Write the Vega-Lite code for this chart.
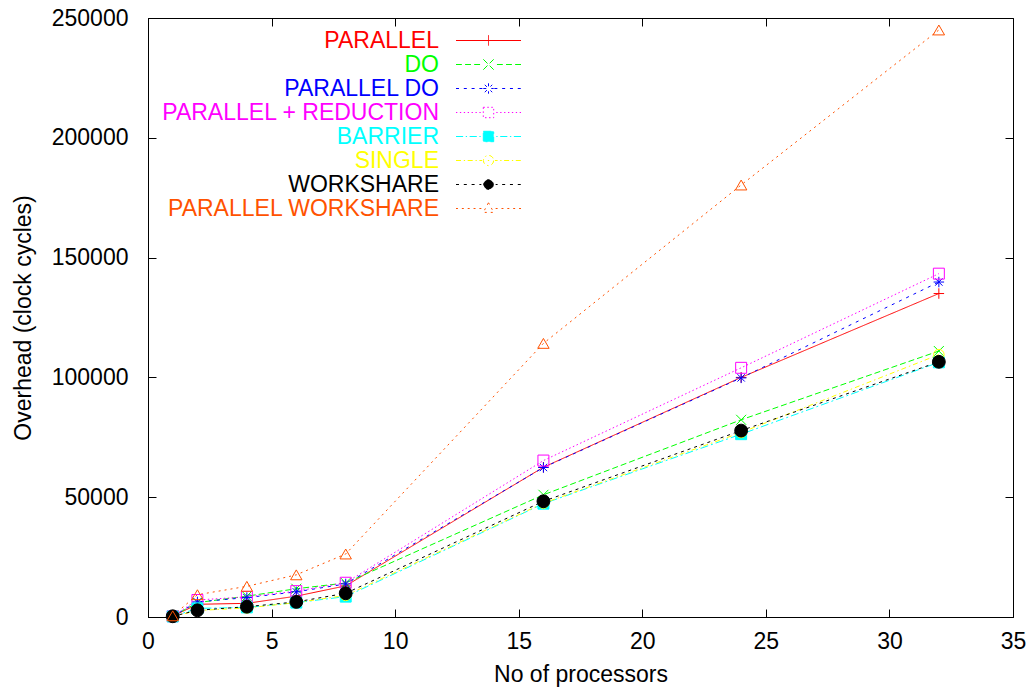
{
  "$schema": "https://vega.github.io/schema/vega-lite/v6.json",
  "width": 865,
  "height": 599,
  "autosize": {"type": "none"},
  "padding": {"left": 148, "top": 18, "right": 18, "bottom": 75},
  "config": {
    "view": {"stroke": "#000000", "strokeWidth": 1},
    "font": "Liberation Sans",
    "axis": {
      "grid": false,
      "domainColor": "#000000",
      "tickColor": "#000000",
      "labelColor": "#000000",
      "titleColor": "#000000",
      "labelFont": "Liberation Sans",
      "titleFont": "Liberation Sans",
      "labelFontSize": 23,
      "titleFontSize": 23,
      "titleFontWeight": "normal",
      "tickSize": -8,
      "labelFlush": false,
      "labelOverlap": false
    },
    "point": {"filled": false, "strokeWidth": 1, "opacity": 1}
  },
  "data": {
    "values": [
      {"n": 1, "series": "PARALLEL", "overhead": 300},
      {"n": 2, "series": "PARALLEL", "overhead": 5300},
      {"n": 4, "series": "PARALLEL", "overhead": 5700},
      {"n": 6, "series": "PARALLEL", "overhead": 8700},
      {"n": 8, "series": "PARALLEL", "overhead": 13000},
      {"n": 16, "series": "PARALLEL", "overhead": 62500},
      {"n": 24, "series": "PARALLEL", "overhead": 100000},
      {"n": 32, "series": "PARALLEL", "overhead": 135000},
      {"n": 1, "series": "DO", "overhead": 300},
      {"n": 2, "series": "DO", "overhead": 6000},
      {"n": 4, "series": "DO", "overhead": 8700},
      {"n": 6, "series": "DO", "overhead": 11800},
      {"n": 8, "series": "DO", "overhead": 14200},
      {"n": 16, "series": "DO", "overhead": 51000},
      {"n": 24, "series": "DO", "overhead": 82300},
      {"n": 32, "series": "DO", "overhead": 111000},
      {"n": 1, "series": "PARALLEL DO", "overhead": 300},
      {"n": 2, "series": "PARALLEL DO", "overhead": 6300},
      {"n": 4, "series": "PARALLEL DO", "overhead": 8100},
      {"n": 6, "series": "PARALLEL DO", "overhead": 10500},
      {"n": 8, "series": "PARALLEL DO", "overhead": 13800},
      {"n": 16, "series": "PARALLEL DO", "overhead": 62400},
      {"n": 24, "series": "PARALLEL DO", "overhead": 99800},
      {"n": 32, "series": "PARALLEL DO", "overhead": 139800},
      {"n": 1, "series": "PARALLEL + REDUCTION", "overhead": 300},
      {"n": 2, "series": "PARALLEL + REDUCTION", "overhead": 7100},
      {"n": 4, "series": "PARALLEL + REDUCTION", "overhead": 8400},
      {"n": 6, "series": "PARALLEL + REDUCTION", "overhead": 10800},
      {"n": 8, "series": "PARALLEL + REDUCTION", "overhead": 14300},
      {"n": 16, "series": "PARALLEL + REDUCTION", "overhead": 65300},
      {"n": 24, "series": "PARALLEL + REDUCTION", "overhead": 104000},
      {"n": 32, "series": "PARALLEL + REDUCTION", "overhead": 143300},
      {"n": 1, "series": "BARRIER", "overhead": 200},
      {"n": 2, "series": "BARRIER", "overhead": 3600},
      {"n": 4, "series": "BARRIER", "overhead": 4000},
      {"n": 6, "series": "BARRIER", "overhead": 6000},
      {"n": 8, "series": "BARRIER", "overhead": 8500},
      {"n": 16, "series": "BARRIER", "overhead": 47300},
      {"n": 24, "series": "BARRIER", "overhead": 76300},
      {"n": 32, "series": "BARRIER", "overhead": 106300},
      {"n": 1, "series": "SINGLE", "overhead": 200},
      {"n": 2, "series": "SINGLE", "overhead": 2700},
      {"n": 4, "series": "SINGLE", "overhead": 3800},
      {"n": 6, "series": "SINGLE", "overhead": 6000},
      {"n": 8, "series": "SINGLE", "overhead": 9000},
      {"n": 16, "series": "SINGLE", "overhead": 47500},
      {"n": 24, "series": "SINGLE", "overhead": 77000},
      {"n": 32, "series": "SINGLE", "overhead": 109500},
      {"n": 1, "series": "WORKSHARE", "overhead": 300},
      {"n": 2, "series": "WORKSHARE", "overhead": 2800},
      {"n": 4, "series": "WORKSHARE", "overhead": 4300},
      {"n": 6, "series": "WORKSHARE", "overhead": 6300},
      {"n": 8, "series": "WORKSHARE", "overhead": 9900},
      {"n": 16, "series": "WORKSHARE", "overhead": 48300},
      {"n": 24, "series": "WORKSHARE", "overhead": 77800},
      {"n": 32, "series": "WORKSHARE", "overhead": 106500},
      {"n": 1, "series": "PARALLEL WORKSHARE", "overhead": 500},
      {"n": 2, "series": "PARALLEL WORKSHARE", "overhead": 9300},
      {"n": 4, "series": "PARALLEL WORKSHARE", "overhead": 12800},
      {"n": 6, "series": "PARALLEL WORKSHARE", "overhead": 17600},
      {"n": 8, "series": "PARALLEL WORKSHARE", "overhead": 26300},
      {"n": 16, "series": "PARALLEL WORKSHARE", "overhead": 114200},
      {"n": 24, "series": "PARALLEL WORKSHARE", "overhead": 180300},
      {"n": 32, "series": "PARALLEL WORKSHARE", "overhead": 245000}
    ]
  },
  "layer": [
    {
      "mark": {"type": "line", "strokeWidth": 1},
      "encoding": {
        "x": {
          "field": "n", "type": "quantitative",
          "scale": {"domain": [0, 35], "nice": false, "zero": false},
          "axis": {"orient": "bottom", "values": [0, 5, 10, 15, 20, 25, 30, 35], "labelPadding": 21, "title": "No of processors", "titlePadding": 10}
        },
        "y": {
          "field": "overhead", "type": "quantitative",
          "scale": {"domain": [0, 250000], "nice": false},
          "axis": {"orient": "left", "values": [0, 50000, 100000, 150000, 200000, 250000], "format": "d", "labelPadding": 28, "title": "Overhead (clock cycles)", "titlePadding": 16}
        },
        "color": {
          "field": "series", "type": "nominal",
          "scale": {
            "domain": ["PARALLEL", "DO", "PARALLEL DO", "PARALLEL + REDUCTION", "BARRIER", "SINGLE", "WORKSHARE", "PARALLEL WORKSHARE"],
            "range": ["#ff0000", "#00ff00", "#0000ff", "#ff00ff", "#00ffff", "#ffff00", "#000000", "#ff5200"]
          },
          "legend": {
            "orient": "none", "legendX": 329, "legendY": 11, "title": null, "padding": 0,
            "symbolSize": 169, "symbolStrokeWidth": 1,
            "labelFont": "Liberation Sans", "labelFontSize": 23, "labelAlign": "right", "labelOffset": -61, "labelLimit": 1000,
            "rowPadding": -1,
            "encode": {
              "symbols": {"update": {
                "shape": {"signal": "['M-5,0L5,0M0,-0.8L0,0.8', 'M-5,0L-4.1,0M-3.6,0L-2.7,0M-2.2,0L-1.3,0M1.3,0L2.2,0M2.7,0L3.6,0M4.1,0L5,0M-0.8,-0.8L0.8,0.8M-0.8,0.8L0.8,-0.8', 'M-5,0L-4.5,0M-3.8,0L-3.3,0M-2.6,0L-2.1,0M-1.4,0L-0.9,0M0.9,0L1.4,0M2.1,0L2.6,0M3.3,0L3.8,0M4.5,0L5,0M-0.8,0L0.8,0M0,-0.8L0,0.8M-0.57,-0.57L0.57,0.57M-0.57,0.57L0.57,-0.57', 'M-5,0L-4.8,0M-4.4,0L-4.2,0M-3.8,0L-3.6,0M-3.2,0L-3,0M-2.6,0L-2.4,0M-2,0L-1.8,0M-1.4,0L-1.2,0M1.2,0L1.4,0M1.8,0L2,0M2.4,0L2.6,0M3,0L3.2,0M3.6,0L3.8,0M4.2,0L4.4,0M4.8,0L5,0M-0.8,-0.8L0.8,-0.8L0.8,0.8L-0.8,0.8Z', 'M-5,0L-3.9,0M-3.5,0L-3.3,0M-2.9,0L-1.8,0M-1.4,0L-1.2,0M1.2,0L1.4,0M1.8,0L2.9,0M3.3,0L3.5,0M3.9,0L5,0M-0.8,-0.8L0.8,-0.8L0.8,0.8L-0.8,0.8Z', 'M-5,0L-4.2,0M-3.8,0L-3.6,0M-3.2,0L-2.4,0M-2,0L-1.8,0M-1.4,0L-1,0M1,0L1.4,0M1.8,0L2,0M2.4,0L3.2,0M3.6,0L3.8,0M4.2,0L5,0M0.8,0L0.69,0.4L0.4,0.69L0,0.8L-0.4,0.69L-0.69,0.4L-0.8,0L-0.69,-0.4L-0.4,-0.69L0,-0.8L0.4,-0.69L0.69,-0.4ZM-0.1,0L0.1,0', 'M-5,0L-4.5,0M-3.8,0L-3.3,0M-2.6,0L-2.1,0M-1.4,0L-1.1,0M1.1,0L1.4,0M2.1,0L2.6,0M3.3,0L3.8,0M4.5,0L5,0M0.75,0L0.65,0.375L0.375,0.65L0,0.75L-0.375,0.65L-0.65,0.375L-0.75,0L-0.65,-0.375L-0.375,-0.65L0,-0.75L0.375,-0.65L0.65,-0.375Z', 'M-5,0L-4.7,0M-4.1,0L-3.8,0M-3.2,0L-2.9,0M-2.3,0L-2,0M-1.4,0L-1.1,0M1.1,0L1.4,0M2,0L2.3,0M2.9,0L3.2,0M3.8,0L4.1,0M4.7,0L5,0M0,-0.9L0.8,0.6L-0.8,0.6Z'][indexof(['PARALLEL', 'DO', 'PARALLEL DO', 'PARALLEL + REDUCTION', 'BARRIER', 'SINGLE', 'WORKSHARE', 'PARALLEL WORKSHARE'], datum.value)]"},
                "fill": {"signal": "datum.value === 'BARRIER' ? '#00ffff' : datum.value === 'WORKSHARE' ? '#000000' : 'transparent'"},
                "stroke": {"signal": "scale('color', datum.value)"},
                "strokeDash": {"value": [1, 0]},
                "strokeWidth": {"value": 1},
                "opacity": {"value": 1}
              }},
              "labels": {"update": {"fill": {"signal": "scale('color', datum.value)"}}}
            }
          }
        },
        "strokeDash": {
          "field": "series", "type": "nominal",
          "scale": {
            "domain": ["PARALLEL", "DO", "PARALLEL DO", "PARALLEL + REDUCTION", "BARRIER", "SINGLE", "WORKSHARE", "PARALLEL WORKSHARE"],
            "range": [[1, 0], [6, 3], [3, 5], [1.5, 2.5], [8, 3, 2, 3], [5, 3, 1.5, 3], [3, 4], [2, 4]]
          },
          "legend": null
        }
      }
    },
    {
      "transform": [{"filter": {"field": "series", "equal": "PARALLEL"}}],
      "mark": {"type": "point", "shape": "M-1,0L1,0M0,-1L0,1", "size": 110, "stroke": "#ff0000", "fill": "transparent"},
      "encoding": {
        "x": {"field": "n", "type": "quantitative", "axis": {"orient": "top", "values": [0, 5, 10, 15, 20, 25, 30, 35], "labels": false, "title": null, "domain": false}},
        "y": {"field": "overhead", "type": "quantitative", "axis": {"orient": "right", "values": [0, 50000, 100000, 150000, 200000, 250000], "labels": false, "title": null, "domain": false}}
      }
    },
    {
      "transform": [{"filter": {"field": "series", "equal": "DO"}}],
      "mark": {"type": "point", "shape": "M-1,-1L1,1M-1,1L1,-1", "size": 100, "stroke": "#00ff00", "fill": "transparent"},
      "encoding": {"x": {"field": "n", "type": "quantitative", "axis": null}, "y": {"field": "overhead", "type": "quantitative", "axis": null}}
    },
    {
      "transform": [{"filter": {"field": "series", "equal": "PARALLEL DO"}}],
      "mark": {"type": "point", "shape": "M-1,0L1,0M0,-1L0,1M-0.7,-0.7L0.7,0.7M-0.7,0.7L0.7,-0.7", "size": 110, "stroke": "#0000ff", "fill": "transparent"},
      "encoding": {"x": {"field": "n", "type": "quantitative", "axis": null}, "y": {"field": "overhead", "type": "quantitative", "axis": null}}
    },
    {
      "transform": [{"filter": {"field": "series", "equal": "PARALLEL + REDUCTION"}}],
      "mark": {"type": "point", "shape": "square", "size": 120, "stroke": "#ff00ff", "fill": "transparent"},
      "encoding": {"x": {"field": "n", "type": "quantitative", "axis": null}, "y": {"field": "overhead", "type": "quantitative", "axis": null}}
    },
    {
      "transform": [{"filter": {"field": "series", "equal": "BARRIER"}}],
      "mark": {"type": "point", "shape": "square", "size": 120, "stroke": "#00ffff", "fill": "#00ffff"},
      "encoding": {"x": {"field": "n", "type": "quantitative", "axis": null}, "y": {"field": "overhead", "type": "quantitative", "axis": null}}
    },
    {
      "transform": [{"filter": {"field": "series", "equal": "SINGLE"}}],
      "mark": {"type": "point", "shape": "circle", "size": 110, "stroke": "#ffff00", "fill": "transparent"},
      "encoding": {"x": {"field": "n", "type": "quantitative", "axis": null}, "y": {"field": "overhead", "type": "quantitative", "axis": null}}
    },
    {
      "transform": [{"filter": {"field": "series", "equal": "WORKSHARE"}}],
      "mark": {"type": "point", "shape": "circle", "size": 165, "stroke": "#000000", "fill": "#000000"},
      "encoding": {"x": {"field": "n", "type": "quantitative", "axis": null}, "y": {"field": "overhead", "type": "quantitative", "axis": null}}
    },
    {
      "transform": [{"filter": {"field": "series", "equal": "PARALLEL WORKSHARE"}}],
      "mark": {"type": "point", "shape": "triangle-up", "size": 130, "stroke": "#ff5200", "fill": "transparent"},
      "encoding": {"x": {"field": "n", "type": "quantitative", "axis": null}, "y": {"field": "overhead", "type": "quantitative", "axis": null}}
    }
  ]
}
